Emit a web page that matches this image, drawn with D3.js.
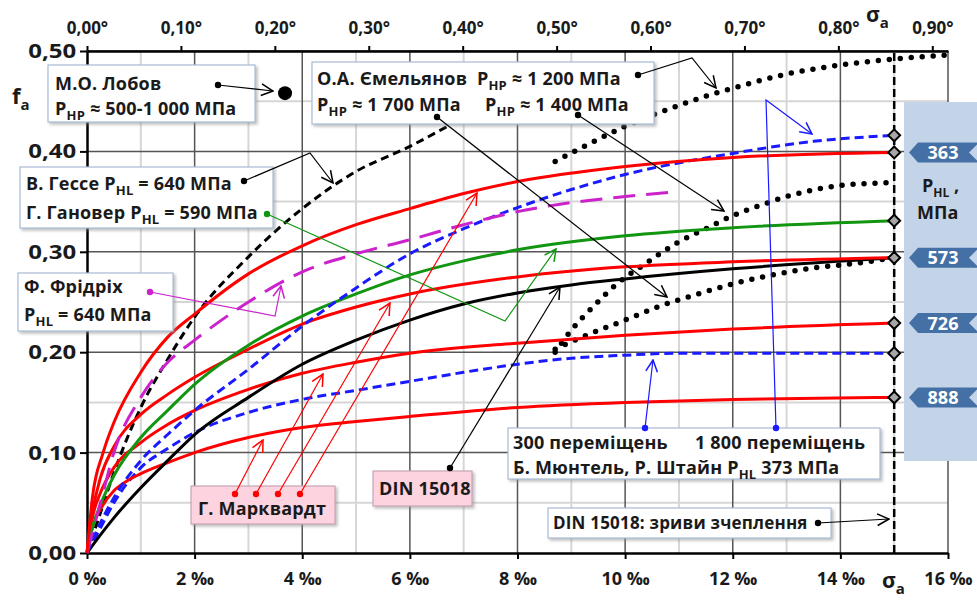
<!DOCTYPE html>
<html>
<head>
<meta charset="utf-8">
<script src="https://cdn.jsdelivr.net/npm/d3@7"></script>
<style>
  body { margin: 0; background: #fff; }
  svg text { font-family: "Open Sans", Lato, sans-serif; font-weight: 700; fill: #1a1a1a; }
</style>
</head>
<body>
<div id="chart"></div>
<script>
// --- data (x in ‰, y = f_a) ---
var xTicks = [0, 2, 4, 6, 8, 10, 12, 14, 16];
var yTicks = [0, 0.1, 0.2, 0.3, 0.4, 0.5];
var degTicks = [0, 0.1, 0.2, 0.3, 0.4, 0.5, 0.6, 0.7, 0.8, 0.9];

var redTop = [[0,0],[0.1,0.055],[0.3,0.1],[0.5,0.13],[1,0.18],[1.5,0.215],[2,0.238],[3,0.278],[4,0.306],[5,0.327],[6,0.343],[7,0.358],[8,0.37],[10,0.385],[12,0.394],[15,0.399]];
var red2 = [[0,0],[0.1,0.04],[0.25,0.075],[0.5,0.106],[1,0.138],[1.5,0.158],[2,0.175],[3,0.203],[4,0.228],[5,0.245],[6,0.258],[8,0.275],[10,0.285],[12,0.29],[15,0.294]];
var red3 = [[0,0],[0.1,0.035],[0.25,0.06],[0.5,0.085],[1,0.11],[1.5,0.128],[2,0.142],[3,0.163],[4,0.179],[5,0.19],[6,0.199],[8,0.209],[10,0.217],[12,0.223],[15,0.229]];
var red4 = [[0,0],[0.1,0.025],[0.3,0.048],[0.5,0.062],[0.75,0.072],[1,0.079],[1.5,0.09],[2,0.1],[3,0.115],[4,0.125],[5,0.131],[6,0.136],[8,0.145],[10,0.15],[12,0.153],[15,0.155]];
var dinBlack = [[0,0],[0.25,0.018],[0.5,0.035],[1,0.065],[1.5,0.092],[2,0.118],[3,0.155],[4,0.188],[5,0.212],[6,0.232],[7,0.248],[8,0.259],[9,0.267],[10,0.273],[12,0.283],[15,0.294]];
var hanoverGreen = [[0,0],[0.1,0.025],[0.25,0.048],[0.5,0.077],[1,0.115],[1.5,0.142],[2,0.168],[3,0.207],[4,0.236],[5,0.258],[6,0.277],[7,0.291],[8,0.302],[10,0.316],[12,0.324],[15,0.331]];
var blue1800 = [[0,0],[0.25,0.03],[0.5,0.055],[1,0.092],[1.5,0.118],[2,0.142],[3,0.183],[4,0.226],[5,0.264],[6,0.298],[7,0.323],[8,0.344],[9,0.362],[10,0.377],[12,0.398],[13.5,0.41],[15,0.416]];
var blue300 = [[0,0],[0.25,0.025],[0.5,0.05],[1,0.085],[1.5,0.104],[2,0.12],[3,0.14],[4,0.153],[5,0.162],[6,0.171],[7,0.18],[8,0.188],[9,0.194],[10,0.197],[11,0.199],[15,0.199]];
var friedrich = [[0,0],[0.25,0.05],[0.5,0.1],[1,0.155],[1.5,0.19],[2,0.212],[3,0.25],[4,0.28],[5,0.298],[6,0.312],[7,0.327],[8,0.34],[9,0.349],[10,0.355],[11,0.36]];
var hesse = [[0,0],[0.25,0.04],[0.5,0.08],[1,0.145],[1.5,0.193],[2,0.235],[3,0.295],[4,0.343],[5,0.38],[6,0.405],[6.7,0.425]];
var emTop = [[8.7,0.39],[9.35,0.408],[10,0.425],[10.8,0.442],[11.5,0.455],[12,0.463],[13,0.477],[14,0.486],[15,0.492],[16,0.496]];
var emMid = [[8.7,0.2],[9,0.222],[9.4,0.245],[9.8,0.266],[10.4,0.289],[11,0.31],[11.5,0.323],[12,0.336],[12.5,0.346],[13,0.355],[14,0.366],[15,0.369]];
var emLow = [[8.7,0.203],[9.2,0.215],[10,0.232],[10.6,0.245],[11.3,0.257],[12,0.268],[12.75,0.277],[13.5,0.284],[14.2,0.288],[15,0.294]];
var lobovPoint = [3.68, 0.458];
var limitX = 15;
var phlLabels = ["363", "573", "726", "888"];

var W = 977, H = 601;
var svg = d3.select("#chart").append("svg").attr("width", W).attr("height", H);
svg.append("rect").attr("width", W).attr("height", H).attr("fill", "#fff");

var x = d3.scaleLinear().domain([0, 16]).range([87, 948]);
var y = d3.scaleLinear().domain([0, 0.5]).range([553, 51]);
var xDeg = d3.scaleLinear().domain([0, 16 * 0.001 * 180 / Math.PI]).range([87, 948]);

var defs = svg.append("defs");
var f = defs.append("filter").attr("id", "shadow").attr("x", "-10%").attr("y", "-20%").attr("width", "130%").attr("height", "150%");
f.append("feDropShadow").attr("dx", 2).attr("dy", 2).attr("stdDeviation", 1.5).attr("flood-color", "#888").attr("flood-opacity", 0.55);

var arrowColors = {black: "#000", red: "#ff0000", green: "#129612", blue: "#1a1aff", magenta: "#cc22cc"};
Object.keys(arrowColors).forEach(function(k) {
  defs.append("marker").attr("id", "arr-" + k)
    .attr("markerUnits", "userSpaceOnUse").attr("markerWidth", 14).attr("markerHeight", 14)
    .attr("viewBox", "0 0 12 12").attr("refX", 11).attr("refY", 6).attr("orient", "auto")
    .append("path").attr("d", "M1,1 L11,6 L1,11").attr("fill", "none")
    .attr("stroke", arrowColors[k]).attr("stroke-width", 1.3);
});

// grid
var grid = svg.append("g");
grid.selectAll(".vmin").data(d3.range(1, 16, 2)).enter().append("line")
  .attr("x1", function(d) { return x(d); }).attr("x2", function(d) { return x(d); })
  .attr("y1", y(0)).attr("y2", y(0.5)).attr("stroke", "#d6d6d6").attr("stroke-width", 2);
grid.selectAll(".hmin").data(d3.range(0.05, 0.5, 0.1)).enter().append("line")
  .attr("y1", function(d) { return y(d); }).attr("y2", function(d) { return y(d); })
  .attr("x1", x(0)).attr("x2", x(16)).attr("stroke", "#d6d6d6").attr("stroke-width", 2);
grid.selectAll(".vmaj").data(xTicks.slice(1)).enter().append("line")
  .attr("x1", function(d) { return x(d); }).attr("x2", function(d) { return x(d); })
  .attr("y1", y(0)).attr("y2", y(0.5)).attr("stroke", "#555").attr("stroke-width", 1.5);
grid.selectAll(".hmaj").data(yTicks.slice(1)).enter().append("line")
  .attr("y1", function(d) { return y(d); }).attr("y2", function(d) { return y(d); })
  .attr("x1", x(0)).attr("x2", x(16)).attr("stroke", "#555").attr("stroke-width", 1.5);

// axes
var comma = function(v) { return d3.format(".2f")(v).replace(".", ","); };
var gx = svg.append("g").attr("transform", "translate(0," + y(0) + ")")
  .call(d3.axisBottom(x).tickValues(xTicks).tickFormat(function(d) { return d + " \u2030"; })
    .tickSize(6).tickSizeOuter(0).tickPadding(13));
var gy = svg.append("g").attr("transform", "translate(" + x(0) + ",0)")
  .call(d3.axisLeft(y).tickValues(yTicks).tickFormat(comma).tickSize(7).tickSizeOuter(0).tickPadding(2));
var gt = svg.append("g").attr("transform", "translate(0," + y(0.5) + ")")
  .call(d3.axisTop(xDeg).tickValues(degTicks).tickFormat(function(d) { return comma(d) + "\u00b0"; })
    .tickSize(5).tickSizeOuter(0).tickPadding(12));
[gx, gy, gt].forEach(function(g) {
  g.select(".domain").attr("stroke", "#000").attr("stroke-width", 2.5);
  g.selectAll(".tick line").attr("stroke", "#000").attr("stroke-width", 2);
  g.selectAll(".tick text").attr("fill", "#1a1a1a").style("font-size", "18px").style("font-weight", 700)
    .style("font-family", "'Open Sans', sans-serif");
});
gt.selectAll(".tick text").style("font-size", "17px");
gy.selectAll(".tick text").style("font-size", "20px").attr("transform", "scale(1.2,1)");

// axis titles
var fa = svg.append("text").attr("x", 12).attr("y", 104).style("font-size", "22px");
fa.append("tspan").text("f");
fa.append("tspan").attr("dy", 6).style("font-size", "15px").text("a");
var sTop = svg.append("text").attr("x", 866).attr("y", 22).style("font-size", "21px");
sTop.append("tspan").text("\u03c3");
sTop.append("tspan").attr("dy", 6).style("font-size", "15px").text("a");
var sBot = svg.append("text").attr("x", 882).attr("y", 588).style("font-size", "21px");
sBot.append("tspan").text("\u03c3");
sBot.append("tspan").attr("dy", 6).style("font-size", "15px").text("a");

// right panel
svg.append("rect").attr("x", 904).attr("y", 102).attr("width", 73).attr("height", 359).attr("fill", "#c4d4e8");

// series
var line = d3.line().x(function(d) { return x(d[0]); }).y(function(d) { return y(d[1]); }).curve(d3.curveMonotoneX);
var series = [
  {d: hesse, c: "#000", w: 3, dash: "8,5"},
  {d: emTop, c: "#000", w: 5.5, dash: "0,11", cap: "round"},
  {d: emMid, c: "#000", w: 5.5, dash: "0,11", cap: "round"},
  {d: emLow, c: "#000", w: 5.5, dash: "0,11", cap: "round"},
  {d: blue300, c: "#1a1aff", w: 3, dash: "9,5"},
  {d: red4, c: "#ff0000", w: 3},
  {d: red3, c: "#ff0000", w: 3},
  {d: dinBlack, c: "#000", w: 3},
  {d: red2, c: "#ff0000", w: 3},
  {d: hanoverGreen, c: "#129612", w: 3},
  {d: blue1800, c: "#1a1aff", w: 3, dash: "9,5"},
  {d: friedrich, c: "#cc22cc", w: 3, dash: "22,11"},
  {d: redTop, c: "#ff0000", w: 3}
];
svg.append("g").selectAll("path").data(series).enter().append("path")
  .attr("d", function(s) { return line(s.d); })
  .attr("fill", "none").attr("stroke", function(s) { return s.c; })
  .attr("stroke-width", function(s) { return s.w; })
  .attr("stroke-dasharray", function(s) { return s.dash || null; })
  .attr("stroke-linecap", function(s) { return s.cap || "butt"; });

// 15 ‰ limit line
svg.append("line").attr("x1", x(limitX)).attr("x2", x(limitX)).attr("y1", y(0)).attr("y2", y(0.5))
  .attr("stroke", "#000").attr("stroke-width", 2.5).attr("stroke-dasharray", "8,4");

// end diamonds
var ends = [blue1800, redTop, hanoverGreen, red2, red3, blue300, red4].map(function(s) { return s[s.length - 1]; });
svg.append("g").selectAll("path").data(ends).enter().append("path")
  .attr("d", d3.symbol().type(d3.symbolDiamond2).size(90))
  .attr("transform", function(d) { return "translate(" + x(d[0]) + "," + y(d[1]) + ")"; })
  .attr("fill", "#a6a6a6").attr("stroke", "#000").attr("stroke-width", 2);

// Lobov point
svg.append("circle").attr("cx", x(lobovPoint[0])).attr("cy", y(lobovPoint[1])).attr("r", 7).attr("fill", "#000");

// P_HL tags
var tagEnds = [redTop, red2, red3, red4].map(function(s) { return s[s.length - 1][1]; });
var tags = svg.append("g").selectAll("g").data(phlLabels).enter().append("g")
  .attr("transform", function(d, i) { return "translate(0," + y(tagEnds[i]) + ")"; });
tags.append("path").attr("d", "M909,0 L918,-10 L977,-10 L977,10 L918,10 Z").attr("fill", "#4470a6");
tags.append("path").attr("d", "M969,0 L977,-8 L977,8 Z").attr("fill", "#c4d4e8");
tags.append("text").attr("x", 943).attr("y", 6.5).attr("text-anchor", "middle")
  .style("font-size", "18px").style("fill", "#fff").text(function(d) { return d; });
var phl = svg.append("text").attr("x", 922).attr("y", 192).style("font-size", "18px");
phl.append("tspan").text("P");
phl.append("tspan").attr("dy", 5).style("font-size", "12px").text("HL");
phl.append("tspan").attr("dy", -5).text(" ,");
svg.append("text").attr("x", 917).attr("y", 219).style("font-size", "18px").text("МПа");

// annotation boxes
function box(x0, y0, w, h, fill, stroke) {
  svg.append("rect").attr("x", x0).attr("y", y0).attr("width", w).attr("height", h)
    .attr("fill", fill || "#fff").attr("stroke", stroke || "#a9bcd6").attr("stroke-width", 1.2)
    .attr("filter", "url(#shadow)");
}
// parts: [text, isSub]
function label(x0, y0, parts, size) {
  var t = svg.append("text").attr("x", x0).attr("y", y0).style("font-size", (size || 18) + "px")
    .style("letter-spacing", "0.2px");
  var sub = false;
  parts.forEach(function(p) {
    var s = t.append("tspan").text(p[0]);
    if (p[1] && !sub) { s.attr("dy", 5).style("font-size", "13px"); sub = true; }
    else if (!p[1] && sub) { s.attr("dy", -5); sub = false; }
  });
  return t;
}
function pointer(pts, color, arrow) {
  var p = svg.append("path").attr("d", d3.line()(pts)).attr("fill", "none")
    .attr("stroke", arrowColors[color]).attr("stroke-width", 1.2);
  if (arrow !== false) p.attr("marker-end", "url(#arr-" + color + ")");
  svg.append("circle").attr("cx", pts[0][0]).attr("cy", pts[0][1]).attr("r", 3.2).attr("fill", arrowColors[color]);
}

box(48, 65, 207, 57);
label(55, 90, [["М.О. Лобов"]]);
label(55, 115, [["P"], ["HP", 1], [" ≈ 500-1 000 МПа"]]);
pointer([[218, 85], [273, 91]], "black");

box(312, 62, 342, 62);
label(317, 85, [["О.А. Ємельянов\u00a0 P"], ["HP", 1], [" ≈ 1 200 МПа"]]);
label(317, 111, [["P"], ["HP", 1], [" ≈ 1 700 МПа"]]);
label(485, 111, [["P"], ["HP", 1], [" ≈ 1 400 МПа"]]);

box(20, 167, 253, 61);
label(26, 190, [["В. Гессе P"], ["HL", 1], [" = 640 МПа"]]);
label(26, 219, [["Г. Гановер P"], ["HL", 1], [" = 590 МПа"]]);

box(18, 273, 155, 58);
label(24, 293, [["Ф. Фрідріх"]]);
label(24, 321, [["P"], ["HL", 1], [" = 640 МПа"]]);

box(191, 486, 144, 38, "#fcd3df", "#c9a6b6");
label(198, 515, [["Г. Марквардт"]]);

box(373, 471, 99, 35, "#fcd3df", "#c9a6b6");
label(379, 495, [["DIN 15018"]]);

box(508, 428, 372, 51);
label(513, 449, [["300 переміщень"]]);
label(695, 449, [["1 800 переміщень"]]);
label(513, 474, [["Б. Мюнтель, Р. Штайн P"], ["HL", 1], [" 373 МПа"]]);

box(548, 508, 283, 30);
label(553, 529, [["DIN 15018: зриви зчеплення"]], 17);

// pointers
pointer([[638, 75], [692, 58], [716, 88]], "black");
pointer([[437, 117], [667, 297]], "black");
pointer([[578, 115], [724, 211]], "black");
pointer([[244, 181], [310, 153], [333, 183]], "black");
pointer([[267, 214], [505, 321], [556, 249]], "green");
pointer([[150, 292], [275, 316], [281, 286]], "magenta");
pointer([[235, 494], [263, 440]], "red");
pointer([[256, 494], [323, 374]], "red");
pointer([[278, 494], [390, 303]], "red");
pointer([[300, 494], [477, 193]], "red");
pointer([[450, 468], [560, 287]], "black");
pointer([[645, 428], [653, 360]], "blue");
pointer([[776, 428], [766, 100], [812, 134]], "blue");
pointer([[818, 523], [889, 519]], "black");
</script>
</body>
</html>
